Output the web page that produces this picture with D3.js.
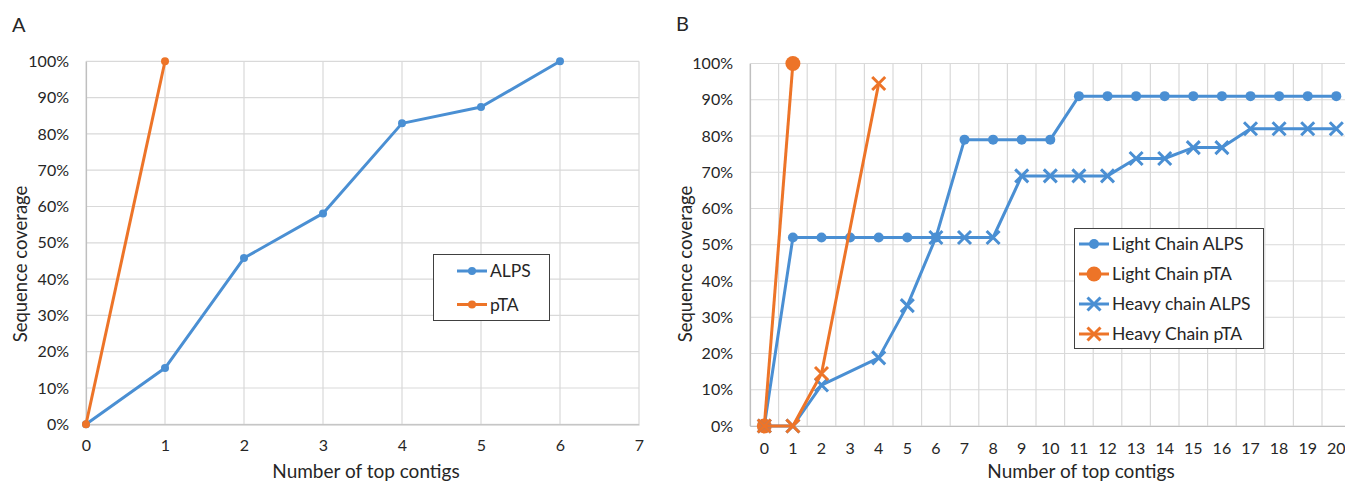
<!DOCTYPE html>
<html>
<head>
<meta charset="utf-8">
<script src="https://cdn.jsdelivr.net/npm/d3@7"></script>
<style>
body { margin: 0; background: #fff; }
svg text { font-family: Lato, "Open Sans", sans-serif; fill: #262626; }
</style>
</head>
<body>
<div id="graph"></div>
<script>
// panel A
var contigsA = [0, 1, 2, 3, 4, 5, 6];
var alpsA = [0, 0.155, 0.458, 0.581, 0.829, 0.874, 1.0];
var ptaA = [0, 1.0];

// panel B
var contigsB = d3.range(0, 21);
var lightAlps = [0, 0.52, 0.52, 0.52, 0.52, 0.52, 0.52, 0.79, 0.79, 0.79, 0.79, 0.91, 0.91, 0.91, 0.91, 0.91, 0.91, 0.91, 0.91, 0.91, 0.91];
var lightPta = [0, 1.0];
var heavyAlps = [0, 0, 0.113, null, 0.188, 0.332, 0.52, 0.52, 0.52, 0.69, 0.69, 0.69, 0.69, 0.738, 0.738, 0.768, 0.768, 0.82, 0.82, 0.82, 0.82];
var heavyPta = [0, 0, 0.145, null, 0.945];

var yTicks = [0, 0.1, 0.2, 0.3, 0.4, 0.5, 0.6, 0.7, 0.8, 0.9, 1.0];
var xTicksA = [0, 1, 2, 3, 4, 5, 6, 7];

var blue = "#4a8fd3", orange = "#ed7428", grid = "#d9d9d9";
var W = 1345, H = 483;

var svg = d3.select("#graph").append("svg")
    .attr("width", W).attr("height", H);

function pts(xs, ys) {
    var out = [];
    ys.forEach(function(v, i) { if (v !== null) out.push([xs[i], v]); });
    return out;
}

function drawCircle(g, x, y, r, color) {
    g.append("circle").attr("cx", x).attr("cy", y).attr("r", r).attr("fill", color);
}
function drawCross(g, x, y, s, color) {
    g.append("path")
        .attr("d", "M" + (x - s) + "," + (y - s) + "L" + (x + s) + "," + (y + s) +
                   "M" + (x - s) + "," + (y + s) + "L" + (x + s) + "," + (y - s))
        .attr("stroke", color).attr("stroke-width", 3).attr("fill", "none");
}

function series(g, data, xf, yf, color, marker, size) {
    g.append("path")
        .datum(data)
        .attr("fill", "none")
        .attr("stroke", color)
        .attr("stroke-width", 3)
        .attr("stroke-linejoin", "round")
        .attr("d", d3.line().x(function(d) { return xf(d[0]); }).y(function(d) { return yf(d[1]); }));
    data.forEach(function(d) {
        if (marker == "circle") drawCircle(g, xf(d[0]), yf(d[1]), size, color);
        else drawCross(g, xf(d[0]), yf(d[1]), size, color);
    });
}

// ---------- A ----------
var gA = svg.append("g");
var xA = d3.scaleLinear().domain([0, 7]).range([86, 639]);
var yA = d3.scaleLinear().domain([0, 1]).range([424.3, 61.3]);

gA.selectAll(".hg").data(yTicks).enter().append("line")
    .attr("x1", xA(0)).attr("x2", xA(7))
    .attr("y1", function(d) { return yA(d); }).attr("y2", function(d) { return yA(d); })
    .attr("stroke", grid).attr("stroke-width", 1.2);
gA.selectAll(".vg").data(xTicksA).enter().append("line")
    .attr("x1", function(d) { return xA(d); }).attr("x2", function(d) { return xA(d); })
    .attr("y1", yA(0)).attr("y2", yA(1))
    .attr("stroke", grid).attr("stroke-width", 1.2);

var axAy = gA.append("g").attr("transform", "translate(" + xA(0) + ",0)")
    .call(d3.axisLeft(yA).tickValues(yTicks).tickFormat(d3.format(".0%")).tickSize(0).tickPadding(17));
var axAx = gA.append("g").attr("transform", "translate(0," + yA(0) + ")")
    .call(d3.axisBottom(xA).tickValues(xTicksA).tickFormat(d3.format("d")).tickSize(0).tickPadding(15));
[axAy, axAx].forEach(function(a) {
    a.select(".domain").attr("stroke", "#bfbfbf").attr("stroke-width", 1.2);
    a.selectAll("text").style("font-size", "16px").attr("fill", "#404040");
});

series(gA, pts(contigsA, alpsA), xA, yA, blue, "circle", 4);
series(gA, pts(contigsA, ptaA), xA, yA, orange, "circle", 4);

gA.append("text").attr("x", 12).attr("y", 32).style("font-size", "20px").text("A");
gA.append("text").attr("x", 366).attr("y", 478).attr("text-anchor", "middle")
    .style("font-size", "19px").text("Number of top contigs");
gA.append("text").attr("transform", "translate(27,264) rotate(-90)").attr("text-anchor", "middle")
    .style("font-size", "18.5px").text("Sequence coverage");

// legend A
var legA = gA.append("g");
legA.append("rect").attr("x", 433.5).attr("y", 254.5).attr("width", 116).attr("height", 66)
    .attr("fill", "#fff").attr("stroke", "#404040").attr("stroke-width", 1);
[["ALPS", blue], ["pTA", orange]].forEach(function(e, i) {
    var y = 271 + i * 33.5;
    legA.append("line").attr("x1", 457).attr("x2", 487).attr("y1", y).attr("y2", y)
        .attr("stroke", e[1]).attr("stroke-width", 3);
    drawCircle(legA, 472, y, 4, e[1]);
    legA.append("text").attr("x", 490).attr("y", y + 6).style("font-size", "17.5px").text(e[0]);
});

// ---------- B ----------
var gB = svg.append("g");
var xB = d3.scaleBand().domain(contigsB).range([750, 1350.6]).padding(0);
var xBc = function(d) { return xB(d) + xB.bandwidth() / 2; };
var yB = d3.scaleLinear().domain([0, 1]).range([426, 63.5]);

gB.selectAll(".hg").data(yTicks).enter().append("line")
    .attr("x1", 750).attr("x2", 1350.6)
    .attr("y1", function(d) { return yB(d); }).attr("y2", function(d) { return yB(d); })
    .attr("stroke", grid).attr("stroke-width", 1.2);
gB.selectAll(".vg").data(contigsB).enter().append("line")
    .attr("x1", function(d) { return xB(d); }).attr("x2", function(d) { return xB(d); })
    .attr("y1", yB(0)).attr("y2", yB(1))
    .attr("stroke", grid).attr("stroke-width", 1.2);

var axBy = gB.append("g").attr("transform", "translate(750,0)")
    .call(d3.axisLeft(yB).tickValues(yTicks).tickFormat(d3.format(".0%")).tickSize(0).tickPadding(17));
var axBx = gB.append("g").attr("transform", "translate(0," + yB(0) + ")")
    .call(d3.axisBottom(xB).tickSize(0).tickPadding(17));
[axBy, axBx].forEach(function(a) {
    a.select(".domain").attr("stroke", "#bfbfbf").attr("stroke-width", 1.2);
    a.selectAll("text").style("font-size", "16px").attr("fill", "#404040");
});

series(gB, pts(contigsB, lightAlps), xBc, yB, blue, "circle", 5);
series(gB, pts(contigsB, lightPta), xBc, yB, orange, "circle", 7.5);
series(gB, pts(contigsB, heavyAlps), xBc, yB, blue, "cross", 6.5);
series(gB, pts(contigsB, heavyPta), xBc, yB, orange, "cross", 6.5);

gB.append("text").attr("x", 676).attr("y", 31).style("font-size", "20px").text("B");
gB.append("text").attr("x", 1081).attr("y", 478).attr("text-anchor", "middle")
    .style("font-size", "19px").text("Number of top contigs");
gB.append("text").attr("transform", "translate(692,264) rotate(-90)").attr("text-anchor", "middle")
    .style("font-size", "18.5px").text("Sequence coverage");

// legend B
var legB = gB.append("g");
legB.append("rect").attr("x", 1074.5).attr("y", 228.5).attr("width", 189).attr("height", 120)
    .attr("fill", "#fff").attr("stroke", "#404040").attr("stroke-width", 1);
[["Light Chain ALPS", blue, "circle", 5],
 ["Light Chain pTA", orange, "circle", 7.5],
 ["Heavy chain ALPS", blue, "cross", 6.5],
 ["Heavy Chain pTA", orange, "cross", 6.5]].forEach(function(e, i) {
    var y = 244 + i * 30;
    legB.append("line").attr("x1", 1079).attr("x2", 1109).attr("y1", y).attr("y2", y)
        .attr("stroke", e[1]).attr("stroke-width", 3);
    if (e[2] == "circle") drawCircle(legB, 1094, y, e[3], e[1]);
    else drawCross(legB, 1094, y, e[3], e[1]);
    legB.append("text").attr("x", 1112).attr("y", y + 6).style("font-size", "17.5px").text(e[0]);
});
</script>
</body>
</html>
